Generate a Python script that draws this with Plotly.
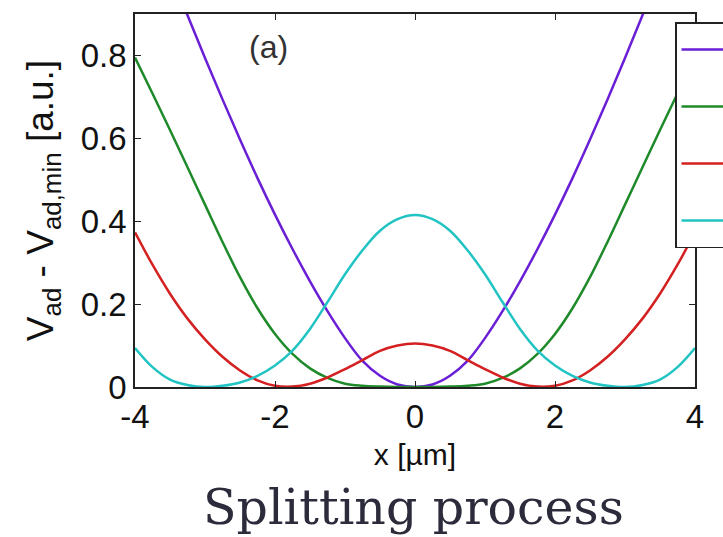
import plotly.graph_objects as go

# x positions (µm) at which values were read (symmetric curves)
x_half = [0.0, 0.25, 0.5, 0.75, 1.0, 1.25, 1.5, 1.75, 2.0, 2.25, 2.5, 2.75, 3.0, 3.25, 3.5, 3.75, 4.0]

purple_half = [0.0, 0.006, 0.027, 0.063, 0.118, 0.183, 0.255, 0.333, 0.416, 0.504, 0.597, 0.694, 0.794, 0.897, 1.002, 1.109, 1.219]
green_half = [0.0, 0.0, 0.001, 0.003, 0.008, 0.022, 0.045, 0.08, 0.128, 0.19, 0.265, 0.35, 0.44, 0.53, 0.62, 0.708, 0.795]
red_half = [0.105, 0.1, 0.087, 0.065, 0.043, 0.023, 0.008, 0.001, 0.003, 0.016, 0.04, 0.073, 0.115, 0.165, 0.225, 0.295, 0.373]
cyan_half = [0.415, 0.405, 0.377, 0.33, 0.272, 0.205, 0.14, 0.088, 0.052, 0.027, 0.011, 0.003, 0.0, 0.005, 0.018, 0.048, 0.094]

names = ["stage 1", "stage 2", "stage 3", "stage 4"]
colors = ["#6a1fd6", "#1f8a2a", "#d42020", "#22c3c3"]

x_ticks = [-4, -2, 0, 2, 4]
y_ticks = [0, 0.2, 0.4, 0.6, 0.8]
y_tick_text = ["0", "0.2", "0.4", "0.6", "0.8"]


def mirror(xs, ys):
    xx = [-v for v in xs[:0:-1]] + list(xs)
    yy = list(ys[:0:-1]) + list(ys)
    return xx, yy


fig = go.Figure()
for i, (nm, vals) in enumerate(zip(names, [purple_half, green_half, red_half, cyan_half])):
    xx, yy = mirror(x_half, vals)
    fig.add_trace(go.Scatter(
        x=xx, y=yy, mode="lines", name=nm, legendgroup=nm,
        line=dict(color=colors[i], width=2.5, shape="spline", smoothing=1.0),
    ))

axis_font = dict(family="Liberation Sans, Arial, sans-serif", size=33, color="#111")

fig.update_layout(
    width=723, height=537,
    margin=dict(l=135, r=28, t=14, b=150, autoexpand=False),
    paper_bgcolor="white", plot_bgcolor="white",
    showlegend=True,
    legend=dict(
        x=(675 - 135) / 560, y=(387 - 22) / 373, xanchor="left", yanchor="top",
        bgcolor="white", bordercolor="#222", borderwidth=1.5,
        font=dict(family="Liberation Sans, Arial, sans-serif", size=30, color="#111"),
        tracegroupgap=15, itemwidth=70,
    ),
    xaxis=dict(
        range=[-4, 4], tickvals=x_ticks, ticktext=[str(v) for v in x_ticks],
        ticks="inside", ticklen=6, tickcolor="#222", tickwidth=1,
        showline=True, linecolor="#222", linewidth=1.5, mirror="ticks",
        showgrid=False, zeroline=False, tickfont=axis_font,
        title=dict(text="x [µm]", font=dict(family="Liberation Sans, Arial, sans-serif", size=30, color="#111"), standoff=10),
    ),
    yaxis=dict(
        range=[0, 0.9], tickvals=y_ticks, ticktext=y_tick_text,
        ticks="inside", ticklen=6, tickcolor="#222", tickwidth=1,
        showline=True, linecolor="#222", linewidth=1.5, mirror="ticks",
        showgrid=False, zeroline=False, tickfont=axis_font,
        title=dict(text="V<sub>ad</sub> - V<sub>ad,min</sub> [a.u.]",
                   font=dict(family="Liberation Sans, Arial, sans-serif", size=37, color="#111"), standoff=16),
    ),
    annotations=[
        dict(text="(a)", x=-2.1, y=0.82, xref="x", yref="y", showarrow=False,
             font=dict(family="Liberation Sans, Arial, sans-serif", size=32, color="#333")),
        dict(text="Splitting process", x=(413 - 135) / 560, y=(387 - 507) / 373, xref="paper", yref="paper",
             showarrow=False, xanchor="center", yanchor="middle",
             font=dict(family="DejaVu Serif, serif", size=49, color="#2b2b3b")),
    ],
)

fig.write_html("out.html")
